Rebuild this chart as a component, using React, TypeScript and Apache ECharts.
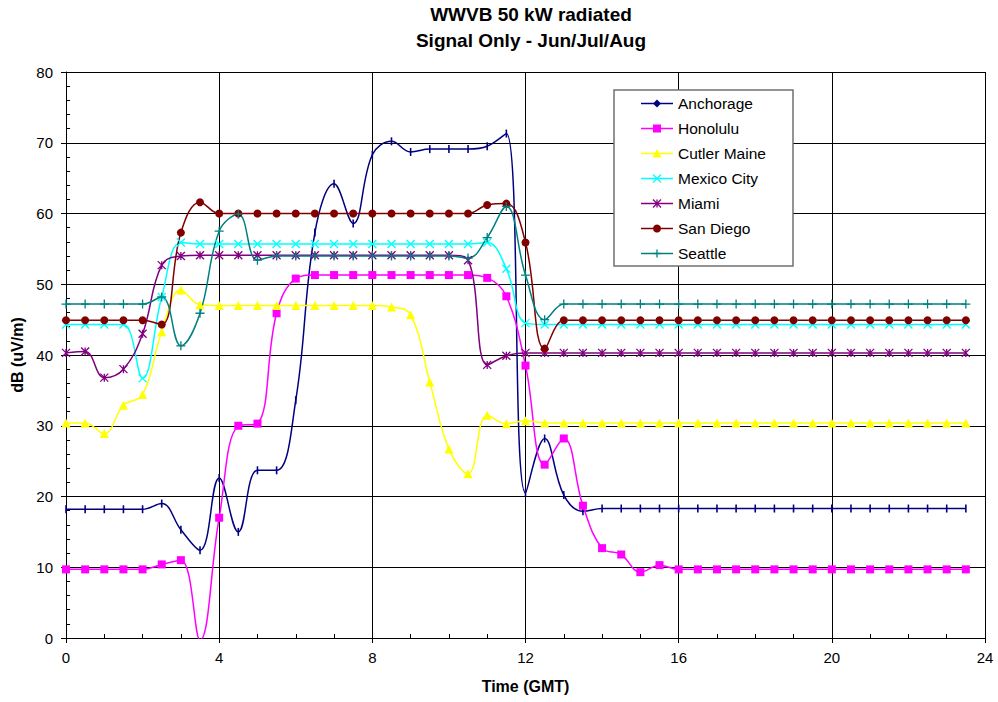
import React, { useEffect, useRef } from "react";
import * as echarts from "echarts";

const FONT = "'Liberation Sans', Arial, Helvetica, sans-serif";

const hours = [
  0, 0.5, 1, 1.5, 2, 2.5, 3, 3.5, 4, 4.5, 5, 5.5, 6, 6.5, 7, 7.5, 8, 8.5, 9, 9.5, 10, 10.5, 11, 11.5,
  12, 12.5, 13, 13.5, 14, 14.5, 15, 15.5, 16, 16.5, 17, 17.5, 18, 18.5, 19, 19.5, 20, 20.5, 21, 21.5,
  22, 22.5, 23, 23.5,
];

const anchorage = [
  18.2, 18.2, 18.2, 18.2, 18.2, 19.0, 15.3, 12.4, 22.6, 15.0, 23.7, 23.7, 33.6, 57.3, 64.2, 58.6,
  68.3, 70.2, 68.7, 69.1, 69.1, 69.1, 69.5, 71.3, 20.5, 28.2, 20.2, 17.9, 18.3, 18.3, 18.3, 18.3,
  18.3, 18.3, 18.3, 18.3, 18.3, 18.3, 18.3, 18.3, 18.3, 18.3, 18.3, 18.3, 18.3, 18.3, 18.3, 18.3,
];
const honolulu = [
  9.7, 9.7, 9.7, 9.7, 9.7, 10.4, 11.0, -0.3, 17.0, 30.0, 30.3, 45.9, 50.8, 51.3, 51.3, 51.3,
  51.3, 51.3, 51.3, 51.3, 51.3, 51.3, 50.9, 48.3, 38.5, 24.5, 28.2, 18.7, 12.7, 11.8, 9.3, 10.3,
  9.7, 9.7, 9.7, 9.7, 9.7, 9.7, 9.7, 9.7, 9.7, 9.7, 9.7, 9.7, 9.7, 9.7, 9.7, 9.7,
];
const cutlerMaine = [
  30.4, 30.4, 28.9, 32.9, 34.4, 43.3, 49.2, 47.1, 47.0, 47.0, 47.0, 47.0, 47.0, 47.0, 47.0, 47.0,
  47.0, 46.8, 45.7, 36.2, 26.7, 23.2, 31.5, 30.3, 30.7, 30.4, 30.4, 30.4, 30.4, 30.4, 30.4, 30.4,
  30.4, 30.4, 30.4, 30.4, 30.4, 30.4, 30.4, 30.4, 30.4, 30.4, 30.4, 30.4, 30.4, 30.4, 30.4, 30.4,
];
const mexicoCity = [
  44.3, 44.3, 44.3, 44.3, 36.7, 48.2, 55.9, 55.7, 55.7, 55.7, 55.7, 55.7, 55.7, 55.7, 55.7, 55.7,
  55.7, 55.7, 55.7, 55.7, 55.7, 55.7, 55.9, 52.2, 44.5, 44.3, 44.3, 44.3, 44.3, 44.3, 44.3, 44.3,
  44.3, 44.3, 44.3, 44.3, 44.3, 44.3, 44.3, 44.3, 44.3, 44.3, 44.3, 44.3, 44.3, 44.3, 44.3, 44.3,
];
const miami = [
  40.3, 40.5, 36.8, 38.0, 43.0, 52.7, 54.0, 54.1, 54.1, 54.1, 54.1, 54.1, 54.1, 54.1, 54.1, 54.1,
  54.1, 54.1, 54.1, 54.1, 54.1, 53.4, 38.6, 39.9, 40.3, 40.3, 40.3, 40.3, 40.3, 40.3, 40.3, 40.3,
  40.3, 40.3, 40.3, 40.3, 40.3, 40.3, 40.3, 40.3, 40.3, 40.3, 40.3, 40.3, 40.3, 40.3, 40.3, 40.3,
];
const sanDiego = [
  44.9, 44.9, 44.9, 44.9, 44.9, 44.3, 57.3, 61.6, 60.0, 60.0, 60.0, 60.0, 60.0, 60.0, 60.0, 60.0,
  60.0, 60.0, 60.0, 60.0, 60.0, 60.0, 61.2, 61.4, 55.9, 40.9, 44.9, 44.9, 44.9, 44.9, 44.9, 44.9,
  44.9, 44.9, 44.9, 44.9, 44.9, 44.9, 44.9, 44.9, 44.9, 44.9, 44.9, 44.9, 44.9, 44.9, 44.9, 44.9,
];
const seattle = [
  47.2, 47.2, 47.2, 47.2, 47.2, 48.2, 41.3, 45.9, 57.5, 59.9, 53.4, 54.0, 54.0, 54.0, 54.0, 54.0,
  54.0, 54.0, 54.0, 54.0, 54.0, 53.7, 56.6, 61.0, 51.3, 45.0, 47.2, 47.2, 47.2, 47.2, 47.2, 47.2,
  47.2, 47.2, 47.2, 47.2, 47.2, 47.2, 47.2, 47.2, 47.2, 47.2, 47.2, 47.2, 47.2, 47.2, 47.2, 47.2,
];

const seriesNames = ["Anchorage", "Honolulu", "Cutler Maine", "Mexico City", "Miami", "San Diego", "Seattle"];
const seriesColors = ["#000080", "#FF00FF", "#FFFF00", "#00FFFF", "#800080", "#800000", "#008080"];
const seriesValues = [anchorage, honolulu, cutlerMaine, mexicoCity, miami, sanDiego, seattle];

const titleLines = ["WWVB 50 kW radiated", "Signal Only - Jun/Jul/Aug"];
const xAxisTitle = "Time (GMT)";
const yAxisTitle = "dB (uV/m)";

const GRID = { left: 66, top: 72, right: 13, bottom: 64 };

type MarkerKind = "tick" | "square" | "triangle" | "x" | "asterisk" | "circle" | "plus";
const markerKinds: MarkerKind[] = ["tick", "square", "triangle", "x", "asterisk", "circle", "plus"];

function seriesSymbol(kind: MarkerKind): { symbol: string; size: any; stroke: boolean } {
  switch (kind) {
    case "tick":
      return { symbol: "rect", size: [1.6, 8], stroke: false };
    case "square":
      return { symbol: "rect", size: 8, stroke: false };
    case "triangle":
      return { symbol: "triangle", size: 9, stroke: false };
    case "x":
      return { symbol: "path://M0,0L10,10M10,0L0,10", size: 8, stroke: true };
    case "asterisk":
      return { symbol: "path://M0,0L10,10M10,0L0,10M5,0L5,10", size: 8, stroke: true };
    case "circle":
      return { symbol: "circle", size: 8, stroke: false };
    case "plus":
      return { symbol: "path://M5,0L5,10M0,5L10,5", size: 9, stroke: true };
  }
}

function legendMarker(kind: MarkerKind, cx: number, cy: number, color: string): any[] {
  const s = 4;
  const ls = { stroke: color, lineWidth: 1.3 };
  switch (kind) {
    case "tick":
      return [{ type: "polygon", shape: { points: [[cx, cy - s], [cx + s, cy], [cx, cy + s], [cx - s, cy]] }, style: { fill: color } }];
    case "square":
      return [{ type: "rect", shape: { x: cx - s, y: cy - s, width: 2 * s, height: 2 * s }, style: { fill: color } }];
    case "triangle":
      return [{ type: "polygon", shape: { points: [[cx, cy - s - 0.5], [cx + s + 0.5, cy + s], [cx - s - 0.5, cy + s]] }, style: { fill: color } }];
    case "x":
      return [
        { type: "line", shape: { x1: cx - s, y1: cy - s, x2: cx + s, y2: cy + s }, style: ls },
        { type: "line", shape: { x1: cx + s, y1: cy - s, x2: cx - s, y2: cy + s }, style: ls },
      ];
    case "asterisk":
      return [
        { type: "line", shape: { x1: cx - s, y1: cy - s, x2: cx + s, y2: cy + s }, style: ls },
        { type: "line", shape: { x1: cx + s, y1: cy - s, x2: cx - s, y2: cy + s }, style: ls },
        { type: "line", shape: { x1: cx, y1: cy - s, x2: cx, y2: cy + s }, style: ls },
      ];
    case "circle":
      return [{ type: "circle", shape: { cx, cy, r: s }, style: { fill: color } }];
    case "plus":
      return [
        { type: "line", shape: { x1: cx, y1: cy - s, x2: cx, y2: cy + s }, style: ls },
        { type: "line", shape: { x1: cx - s, y1: cy, x2: cx + s, y2: cy }, style: ls },
      ];
  }
}

export default function App() {
  const ref = useRef<HTMLDivElement>(null);

  useEffect(() => {
    if (!ref.current) return;
    const chart = echarts.init(ref.current, undefined, { renderer: "svg" });

    const series = seriesNames.map((name, i) => {
      const sym = seriesSymbol(markerKinds[i]);
      const color = seriesColors[i];
      return {
        type: "line",
        name,
        data: hours.map((h, j) => [h, seriesValues[i][j]]),
        smooth: 0.4,
        color,
        symbol: sym.symbol,
        symbolSize: sym.size,
        showAllSymbol: true,
        clip: true,
        lineStyle: { width: 1.5, color },
        itemStyle: { color, borderColor: color, borderWidth: sym.stroke ? 1.3 : 0 },
        emphasis: { disabled: true },
        xAxisIndex: 0,
        yAxisIndex: 0,
      };
    });

    // legend drawn as graphic
    const lx = 614, ly = 90, lw = 179, lh = 176;
    const legendEls: any[] = [
      { type: "rect", shape: { x: lx, y: ly, width: lw, height: lh }, style: { fill: "#fff", stroke: "#707070", lineWidth: 1.5 }, z: 100 },
    ];
    seriesNames.forEach((name, i) => {
      const cy = 103.5 + i * 25;
      const color = seriesColors[i];
      legendEls.push({ type: "line", shape: { x1: 641, y1: cy, x2: 673, y2: cy }, style: { stroke: color, lineWidth: 1.5 }, z: 101 });
      legendMarker(markerKinds[i], 657, cy, color).forEach((el) => legendEls.push({ ...el, z: 102 }));
      legendEls.push({
        type: "text",
        x: 678,
        y: cy,
        style: { text: name, fill: "#000", font: `15.5px ${FONT}`, textAlign: "left", textVerticalAlign: "middle" },
        z: 102,
      });
    });

    const titleEls = titleLines.map((t, i) => ({
      type: "text",
      x: 531,
      y: 14 + i * 26,
      style: { text: t, fill: "#000", font: `bold 19px ${FONT}`, textAlign: "center", textVerticalAlign: "middle" },
    }));

    const option: any = {
      animation: false,
      backgroundColor: "#fff",
      textStyle: { fontFamily: FONT },
      grid: { ...GRID, containLabel: false },
      xAxis: [
        {
          type: "value",
          min: 0,
          max: 24,
          interval: 4,
          name: xAxisTitle,
          nameLocation: "middle",
          nameGap: 40,
          nameTextStyle: { fontSize: 16, fontWeight: "bold", color: "#000", fontFamily: FONT },
          axisLine: { show: true, onZero: false, lineStyle: { color: "#000", width: 1 } },
          axisTick: { show: false, inside: true },
          minorTick: { show: true, splitNumber: 4, length: 4, lineStyle: { color: "#000", width: 1 } },
          axisLabel: { fontSize: 15, color: "#000", margin: 12, fontFamily: FONT },
          splitLine: { show: true, lineStyle: { color: "#000", width: 1 } },
        },
        {
          type: "value",
          min: 0,
          max: 24,
          interval: 4,
          position: "bottom",
          axisLine: { show: false },
          axisTick: { show: true, inside: false, length: 5, lineStyle: { color: "#000", width: 1 } },
          axisLabel: { show: false },
          splitLine: { show: false },
        },
      ],
      yAxis: [
        {
          type: "value",
          min: 0,
          max: 80,
          interval: 10,
          name: yAxisTitle,
          nameLocation: "middle",
          nameGap: 37,
          nameTextStyle: { fontSize: 16, fontWeight: "bold", color: "#000", fontFamily: FONT },
          axisLine: { show: true, onZero: false, lineStyle: { color: "#000", width: 1 } },
          axisTick: { show: false, inside: true },
          minorTick: { show: true, splitNumber: 5, length: 4, lineStyle: { color: "#000", width: 1 } },
          axisLabel: { fontSize: 15, color: "#000", margin: 13, fontFamily: FONT },
          splitLine: { show: true, lineStyle: { color: "#000", width: 1 } },
        },
        {
          type: "value",
          min: 0,
          max: 80,
          interval: 10,
          position: "left",
          axisLine: { show: false },
          axisTick: { show: true, inside: false, length: 5, lineStyle: { color: "#000", width: 1 } },
          axisLabel: { show: false },
          splitLine: { show: false },
        },
      ],
      series,
      graphic: [...titleEls, ...legendEls],
    };

    chart.setOption(option);
    return () => chart.dispose();
  }, []);

  return (
    <div
      ref={ref}
      style={{ position: "fixed", left: 0, top: 0, width: 998, height: 702, background: "#fff" }}
    />
  );
}
